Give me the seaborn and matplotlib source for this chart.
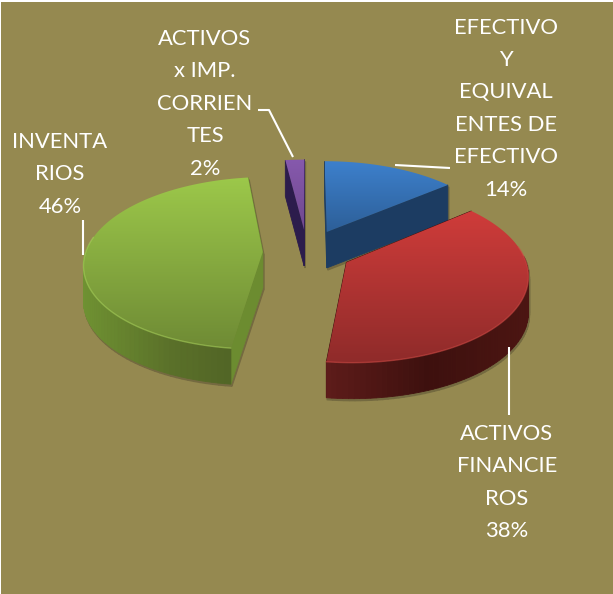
import numpy as np
import matplotlib
matplotlib.use("Agg")
import matplotlib.pyplot as plt
from matplotlib.colors import LinearSegmentedColormap, to_rgb
from matplotlib.patches import Polygon, Rectangle
import seaborn as sns

# -------------------------------------------------
# Data
# -------------------------------------------------
label_lines = [
    ["EFECTIVO", "Y", "EQUIVAL", "ENTES DE", "EFECTIVO"],
    ["ACTIVOS", "FINANCIE", "ROS"],
    ["INVENTA", "RIOS"],
    ["ACTIVOS", "x IMP.", "CORRIEN", "TES"],
]
shares = [14, 38, 46, 2]

# -------------------------------------------------
# Look
# -------------------------------------------------
top_light = ["#3d80cc", "#cf3c3a", "#9cc84a", "#8659ad"]
top_dark = ["#2d5f98", "#8f2b2a", "#6f8b35", "#70498f"]
arc_left = ["#1b3759", "#5e1c1a", "#6f9232", "#2c1c4c"]
arc_right = ["#1f4470", "#4c1512", "#4d5f24", "#2c1c4c"]
arc_mid = ["#1c3b60", "#3d100e", "#5a7029", "#2c1c4c"]
cut_color = ["#1c3c62", "#3d100e", "#6c8c30", "#2c1c4c"]
rim_color = ["#4b8ad0", "#d24a46", "#a9d35c", "#9068b5"]
bg_color = "#958950"
shadow_color = "#746a40"

label_x = [506, 507, 60, 205]
label_y = [33.5, 440, 148, 45]
line_step = 32.4
leaders = [
    [(395, 165), (450, 168)],
    [(509, 347), (509, 415)],
    [(83, 255), (83, 220)],
    [(293, 157), (269, 110), (258, 110)],
]

sns.set_theme(style="white")
plt.rcParams["font.family"] = ["Lato", "DejaVu Sans"]

fig = plt.figure(figsize=(6.13, 5.94), dpi=100, facecolor="white")

# the pie only gives the wedge geometry, it gets projected below
helper = fig.add_axes([0, 0, 0.1, 0.1])
wedges, _ = helper.pie(shares, startangle=90, counterclock=False,
                       explode=[0.27, 0.25, 0.25, 0.27])
helper.set_visible(False)

ax = fig.add_axes([0, 0, 1, 1])
ax.set_xlim(0, 613)
ax.set_ylim(594, 0)
ax.axis("off")
ax.add_patch(Rectangle((1, 2), 612, 592, facecolor=bg_color, edgecolor="none", zorder=0))

CX, CY, RX, RY, TILT, DEPTH = 307, 252, 177, 84.6, 0.128, 36


def project(u, v):
    w = 1 + TILT * v
    return CX + RX * u / w, CY - RY * v / w


def mix(a, b, t):
    a, b = np.array(to_rgb(a)), np.array(to_rgb(b))
    return tuple(a + (b - a) * t)


def arc_shade(i, t):
    if t < 0.5:
        return mix(arc_left[i], arc_mid[i], t * 2)
    return mix(arc_mid[i], arc_right[i], (t - 0.5) * 2)


def side_faces(sx, rel_v):
    # (k, j) outline segments that can show; the back of the rim never does
    n = len(sx)
    pairs = []
    for k in range(n):
        j = (k + 1) % n
        is_cut = k == 0 or j == 0
        if is_cut or rel_v[k] < 0.05 or rel_v[j] < 0.05:
            pairs.append((k, j, is_cut))
    return pairs


shapes = []
for i, wedge in enumerate(wedges):
    angles = np.radians(np.linspace(wedge.theta1, wedge.theta2, 90))
    x0, y0 = wedge.center
    u = np.concatenate([[x0], x0 + np.cos(angles)])
    v = np.concatenate([[y0], y0 + np.sin(angles)])
    sx, sy = project(u, v)
    shapes.append((y0, i, sx, sy, v - y0))

# soft contact shadow first
for _, i, sx, sy, rel_v in shapes:
    for k, j, _ in side_faces(sx, rel_v):
        ax.fill([sx[k] + 1, sx[j] + 1, sx[j] + 1, sx[k] + 1],
                [sy[k] + 2, sy[j] + 2, sy[j] + DEPTH + 2, sy[k] + DEPTH + 2],
                color=shadow_color, lw=1.0, zorder=1)

# back wedges first
z = 2
for _, i, sx, sy, rel_v in sorted(shapes, key=lambda s: -s[0]):
    faces = []
    for k, j, is_cut in side_faces(sx, rel_v):
        t = (0.5 * (sx[k] + sx[j]) - sx.min()) / (sx.max() - sx.min())
        col = cut_color[i] if is_cut else arc_shade(i, t)
        faces.append((0.5 * (sy[k] + sy[j]), k, j, col))
    for _, k, j, col in sorted(faces, key=lambda f: f[0]):
        ax.fill([sx[k], sx[j], sx[j], sx[k]],
                [sy[k], sy[j], sy[j] + DEPTH, sy[k] + DEPTH],
                color=col, lw=0.6, zorder=z)
    z += 1

    # top face with a vertical gradient
    cmap = LinearSegmentedColormap.from_list("top", [top_light[i], top_dark[i]])
    grad = np.linspace(0, 1, 128).reshape(-1, 1)
    img = ax.imshow(grad, cmap=cmap, aspect="auto", zorder=z,
                    extent=(sx.min(), sx.max(), sy.max(), sy.min()))
    clip = Polygon(np.column_stack([sx, sy]), closed=True, transform=ax.transData)
    img.set_clip_path(clip)
    z += 1
    # light bevel on the front part of the rim only
    front = rel_v[1:] < 0.2
    ax.plot(sx[1:][front], sy[1:][front], color=rim_color[i], lw=1.0, alpha=0.55, zorder=z)
    z += 1

ax.set_xlim(0, 613)
ax.set_ylim(594, 0)

# -------------------------------------------------
# Labels and leader lines
# -------------------------------------------------
for pts in leaders:
    ax.plot(*zip(*pts), color="white", lw=1.5, zorder=50, solid_capstyle="butt")

for lines, share, x, y in zip(label_lines, shares, label_x, label_y):
    for n, line in enumerate(lines + [f"{share}%"]):
        ax.text(x, y + n * line_step, line, color="white", fontsize=15.8,
                ha="center", va="baseline", zorder=60)

fig.savefig("out.png", dpi=100)
